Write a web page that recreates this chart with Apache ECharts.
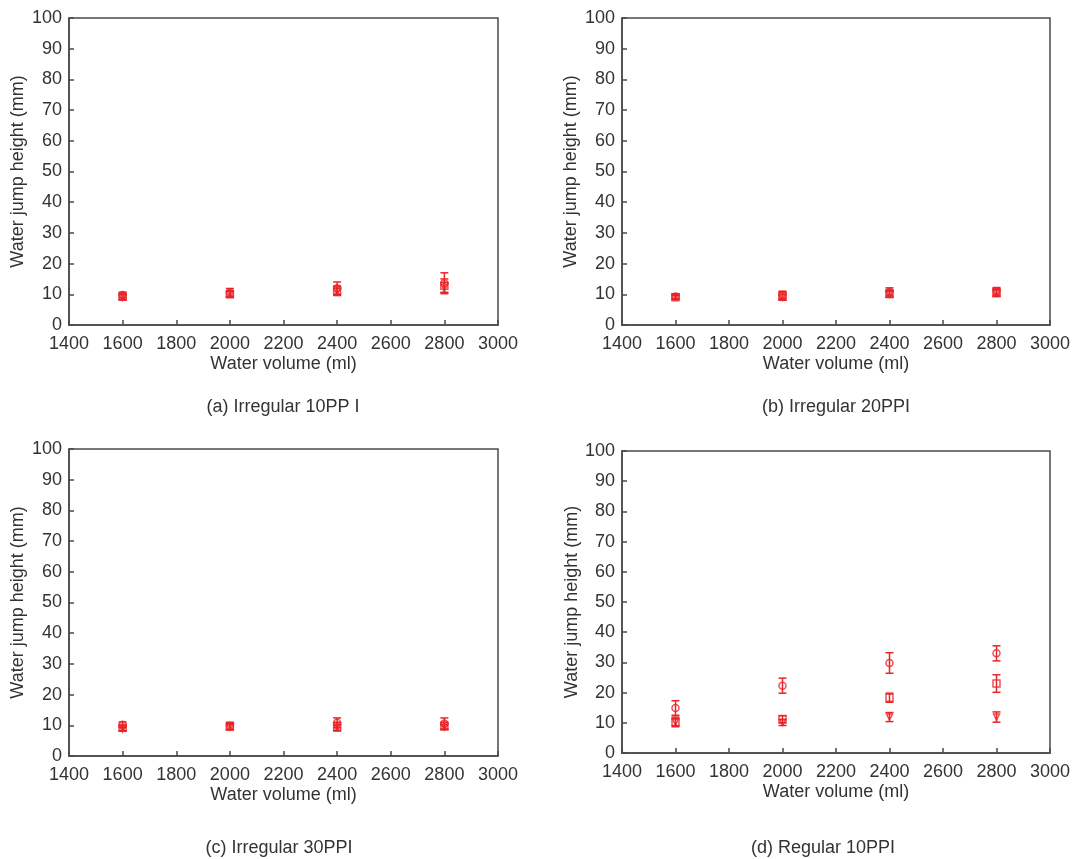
<!DOCTYPE html>
<html>
<head>
<meta charset="UTF-8">
<title>Water jump height</title>
<script src="https://cdn.jsdelivr.net/npm/echarts@6/dist/echarts.min.js"></script>
<style>
  html, body { margin: 0; padding: 0; background: #fff; }
  #main { width: 1081px; height: 859px; }
</style>
</head>
<body>
<div id="main"></div>
<script type="text/javascript">
// x values (ml)
var volumes = [1600, 2000, 2400, 2800];

// (a) Irregular 10PPI
var aCircle = [9.8, 10.6, 12.0, 13.6];
var aCircleErr = [0.9, 1.3, 2.0, 3.4];
var aSquare = [9.2, 10.0, 11.2, 12.8];
var aSquareErr = [0.9, 1.0, 1.5, 2.2];
var aTri = [9.0, 10.2, 10.8, 12.2];
var aTriErr = [0.8, 1.0, 1.2, 1.6];

// (b) Irregular 20PPI
var bCircle = [9.3, 9.8, 10.8, 11.0];
var bCircleErr = [0.8, 1.2, 1.3, 1.2];
var bSquare = [9.0, 9.4, 10.2, 10.6];
var bSquareErr = [0.7, 1.3, 1.2, 1.3];
var bTri = [9.2, 9.0, 10.0, 10.4];
var bTriErr = [0.6, 0.9, 1.0, 1.1];

// (c) Irregular 30PPI
var cCircle = [10.2, 9.8, 10.8, 10.6];
var cCircleErr = [0.9, 1.2, 1.6, 1.8];
var cSquare = [9.2, 9.6, 9.6, 9.8];
var cSquareErr = [0.9, 1.0, 1.4, 1.2];
var cTri = [8.8, 9.4, 9.2, 9.4];
var cTriErr = [0.7, 0.8, 1.0, 0.8];

// (d) Regular 10PPI
var dCircle = [14.9, 22.3, 29.8, 33.0];
var dCircleErr = [2.4, 2.5, 3.4, 2.5];
var dSquare = [10.3, 11.2, 18.3, 23.0];
var dSquareErr = [1.6, 1.2, 1.5, 2.9];
var dTri = [10.2, 10.1, 11.9, 11.9];
var dTriErr = [1.2, 1.0, 1.5, 1.7];

var captions = ['(a) Irregular 10PP I', '(b) Irregular 20PPI', '(c) Irregular 30PPI', '(d) Regular 10PPI'];

var panels = [
  { grid: { left: 69, top: 18, width: 429, height: 307 }, nameGap: 42, capX: 278, capY: 393,
    sets: [[aCircle, aCircleErr, 'circle'], [aSquare, aSquareErr, 'rect'], [aTri, aTriErr, 'triangle']] },
  { grid: { left: 622, top: 18, width: 428, height: 307 }, nameGap: 42, capX: 831, capY: 393,
    sets: [[bCircle, bCircleErr, 'circle'], [bSquare, bSquareErr, 'rect'], [bTri, bTriErr, 'triangle']] },
  { grid: { left: 69, top: 449, width: 429, height: 307 }, nameGap: 42, capX: 274, capY: 834,
    sets: [[cCircle, cCircleErr, 'circle'], [cSquare, cSquareErr, 'rect'], [cTri, cTriErr, 'triangle']] },
  { grid: { left: 622, top: 451, width: 428, height: 302 }, nameGap: 39, capX: 818, capY: 834,
    sets: [[dCircle, dCircleErr, 'circle'], [dSquare, dSquareErr, 'rect'], [dTri, dTriErr, 'triangle']] }
];

var red = '#e8262a';
var axisColor = '#4a4a4a';
var textColor = '#333';
var font = 'Liberation Sans, Arial, sans-serif';

var myChart = echarts.init(document.getElementById('main'));

// vertical error bar with caps
function renderErr(params, api) {
  var x = api.value(0);
  var lo = api.coord([x, api.value(1)]);
  var hi = api.coord([x, api.value(2)]);
  var cap = 4;
  var st = { stroke: red, lineWidth: 1.5 };
  return {
    type: 'group',
    children: [
      { type: 'line', shape: { x1: hi[0], y1: hi[1], x2: lo[0], y2: lo[1] }, style: st },
      { type: 'line', shape: { x1: hi[0] - cap, y1: hi[1], x2: hi[0] + cap, y2: hi[1] }, style: st },
      { type: 'line', shape: { x1: lo[0] - cap, y1: lo[1], x2: lo[0] + cap, y2: lo[1] }, style: st }
    ]
  };
}

var grids = [], xAxes = [], yAxes = [], series = [], titles = [];

panels.forEach(function (p, i) {
  grids.push(Object.assign({ show: true, borderColor: axisColor, borderWidth: 1.5, backgroundColor: '#fff' }, p.grid));
  xAxes.push({
    gridIndex: i, type: 'value', min: 1400, max: 3000, interval: 200,
    name: 'Water volume (ml)', nameLocation: 'middle', nameGap: 30,
    nameTextStyle: { color: textColor, fontSize: 18, fontFamily: font },
    axisLine: { show: true, lineStyle: { color: axisColor, width: 1.5 } },
    axisTick: { show: true, inside: true, length: 5, lineStyle: { color: axisColor, width: 1.5 } },
    axisLabel: { color: textColor, fontSize: 18, fontFamily: font, margin: 10,
      formatter: function (v) { return String(v); } },
    splitLine: { show: false }
  });
  yAxes.push({
    gridIndex: i, type: 'value', min: 0, max: 100, interval: 10,
    name: 'Water jump height (mm)', nameLocation: 'middle', nameGap: p.nameGap, nameRotate: 90,
    nameTextStyle: { color: textColor, fontSize: 18, fontFamily: font },
    axisLine: { show: true, lineStyle: { color: axisColor, width: 1.5 } },
    axisTick: { show: true, inside: true, length: 5, lineStyle: { color: axisColor, width: 1.5 } },
    axisLabel: { color: textColor, fontSize: 18, fontFamily: font, margin: 7 },
    splitLine: { show: false }
  });
  titles.push({
    text: captions[i],
    left: p.capX, top: p.capY, textAlign: 'center',
    textStyle: { color: textColor, fontSize: 18, fontWeight: 'normal', fontFamily: font }
  });
  p.sets.forEach(function (s) {
    var vals = s[0], errs = s[1], sym = s[2];
    series.push({
      type: 'custom', xAxisIndex: i, yAxisIndex: i,
      renderItem: renderErr,
      data: volumes.map(function (v, k) { return [v, vals[k] - errs[k], vals[k] + errs[k]]; }),
      z: 2
    });
    series.push({
      type: 'scatter', xAxisIndex: i, yAxisIndex: i,
      symbol: sym, symbolSize: sym === 'triangle' ? 6 : 7,
      symbolRotate: sym === 'triangle' ? 180 : 0,
      itemStyle: { color: 'rgba(255,255,255,0)', borderColor: red, borderWidth: 1.5 },
      data: volumes.map(function (v, k) { return [v, vals[k]]; }),
      z: 3
    });
  });
});

var option = {
  animation: false,
  backgroundColor: '#fff',
  title: titles,
  grid: grids,
  xAxis: xAxes,
  yAxis: yAxes,
  series: series
};

myChart.setOption(option);
</script>
</body>
</html>
